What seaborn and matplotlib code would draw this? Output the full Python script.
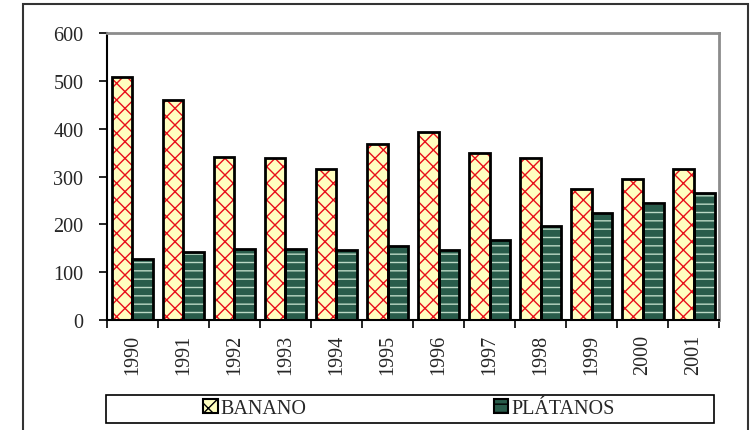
import numpy as np
import pandas as pd
import seaborn as sns
import matplotlib.pyplot as plt
from matplotlib.patches import Rectangle, Patch

# Values
years = ["1990", "1991", "1992", "1993", "1994", "1995",
         "1996", "1997", "1998", "1999", "2000", "2001"]
banano = [508, 460, 341, 339, 316, 368, 393, 349, 339, 274, 295, 316]
platanos = [128, 142, 149, 148, 146, 155, 147, 167, 197, 224, 245, 265]
series = ["BANANO", "PLÁTANOS"]

df = pd.DataFrame({
    "year": years * 2,
    "value": banano + platanos,
    "tipo": [series[0]] * len(years) + [series[1]] * len(years),
})

sns.set_style("white")
plt.rcParams['font.family'] = ['Liberation Serif', 'DejaVu Serif']
plt.rcParams['hatch.linewidth'] = 1.0

fig = plt.figure(figsize=(7.53, 4.31), dpi=100)
ax = fig.add_axes([0.142, 0.255, 0.813, 0.666])

colors = {"BANANO": "#FFFFC0", "PLÁTANOS": "#295C4B"}
hatch_cols = {"BANANO": "#E8101A", "PLÁTANOS": "#BCD9C6"}
hatches = {"BANANO": "xx", "PLÁTANOS": "--"}

sns.barplot(data=df, x="year", y="value", hue="tipo", palette=colors,
            width=0.82, legend=False, ax=ax, saturation=1)

for cont, name in zip(ax.containers, series):
    for p in cont:
        p.set_hatch(hatches[name])
        p.set_edgecolor(hatch_cols[name])
        p.set_linewidth(0)
        ax.add_patch(Rectangle((p.get_x(), p.get_y()), p.get_width(), p.get_height(),
                               fill=False, edgecolor="black", linewidth=2, zorder=3))

ax.set_ylim(0, 600)
ax.set_xlim(-0.5, len(years) - 0.5)
ax.set_yticks(range(0, 601, 100))
ax.tick_params(axis='y', direction='out', length=6, width=1.2, pad=11,
               labelsize=14.5, left=True, color='black')

ax.set_xticks(np.arange(-0.5, len(years), 1))
ax.set_xticklabels([])
ax.set_xticks(np.arange(len(years)), minor=True)
ax.set_xticklabels(years, minor=True, rotation=90, fontsize=14.5)
ax.tick_params(axis='x', which='major', direction='out', length=6, width=1.2,
               bottom=True, color='black')
ax.tick_params(axis='x', which='minor', length=0, pad=10)

ax.set_xlabel("")
ax.set_ylabel("")
for s in ["left", "bottom"]:
    ax.spines[s].set_color("black")
    ax.spines[s].set_linewidth(1.5)
for s in ["top", "right"]:
    ax.spines[s].set_color("#8C8C8C")
    ax.spines[s].set_linewidth(2)

# outer chart frame
fig.add_artist(Rectangle((0.0305, -0.02), 0.963, 1.008, transform=fig.transFigure,
                         fill=False, edgecolor="#333333", linewidth=1.5))
# legend box
fig.add_artist(Rectangle((0.141, 0.016), 0.807, 0.065, transform=fig.transFigure,
                         fill=False, edgecolor="black", linewidth=1.2))

handles = [Patch(facecolor=colors[n], edgecolor=hatch_cols[n], hatch=hatches[n], linewidth=0)
           for n in series]
leg = fig.legend(handles, series, loc="center", bbox_to_anchor=(0.543, 0.049),
                 ncol=2, frameon=False, fontsize=14.5, handlelength=0.7,
                 handleheight=0.7, handletextpad=0.15, columnspacing=9.3)
for h in leg.legend_handles:
    h.set_edgecolor("black")
    h.set_linewidth(1.5)

fig.savefig("out.png", dpi=100)
